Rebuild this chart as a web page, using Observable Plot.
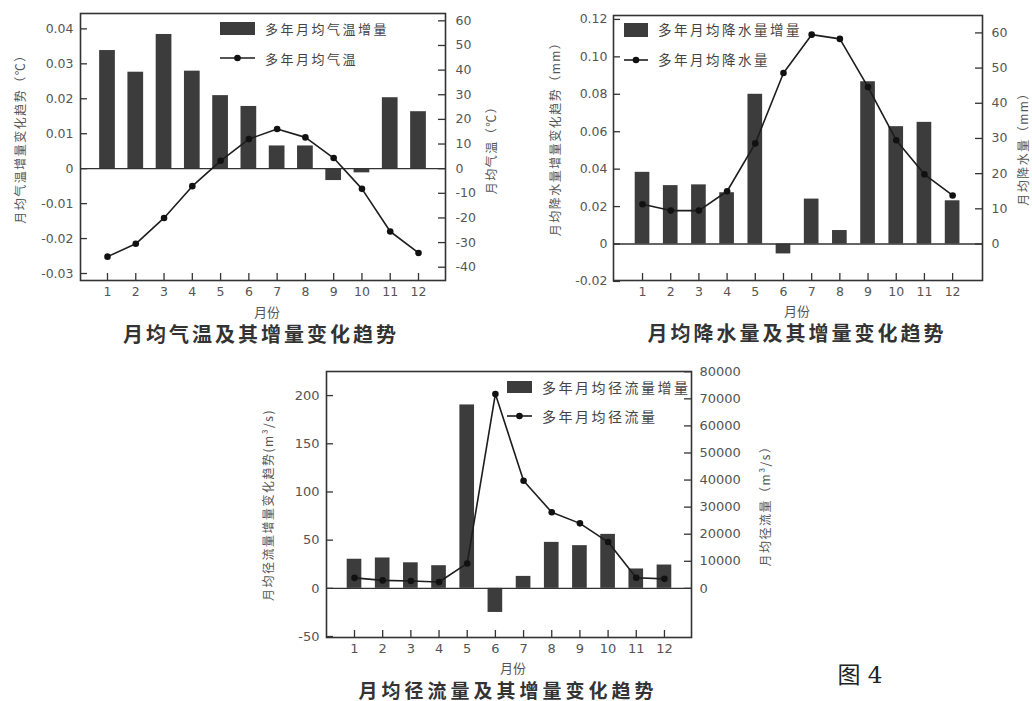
<!DOCTYPE html>
<html>
<head>
<meta charset="utf-8">
<script src="https://cdn.jsdelivr.net/npm/d3@7"></script>
<script src="https://cdn.jsdelivr.net/npm/@observablehq/plot@0.6"></script>
<style>
  html, body { margin: 0; padding: 0; background: #fff; }
  #root { position: relative; width: 1032px; height: 701px; overflow: hidden; background: #fff;
          font-family: "Noto Sans CJK SC", "Noto Sans", sans-serif; }
  .abs { position: absolute; white-space: nowrap; line-height: 1; }
  .title { font-size: 20px; font-weight: bold; color: #333; letter-spacing: 3px; transform: translate(-50%, -50%); }
  .xlab { font-size: 13px; color: #555; transform: translate(-50%, -50%); }
  .ytitle { font-size: 12px; color: #555; letter-spacing: 1.5px; transform: translate(-50%, -50%) rotate(-90deg); }
  .leg { font-size: 13px; color: #444; letter-spacing: 2.5px; transform: translateY(-50%); }
  .fig { font-size: 23px; color: #222; font-family: "DejaVu Serif", "Noto Sans CJK SC", serif; transform: translate(-50%, -50%); }
</style>
</head>
<body>
<div id="root"></div>
<script>
// ---------- data ----------
const months = [1, 2, 3, 4, 5, 6, 7, 8, 9, 10, 11, 12];

// chart 1: monthly mean temperature
const tempIncrement = [0.0338, 0.0276, 0.0384, 0.0279, 0.0209, 0.0178, 0.0065, 0.0065, -0.0034, -0.0012, 0.0203, 0.0163];
const tempMean = [-35.7, -30.5, -20.0, -7.1, 3.2, 12.0, 16.1, 12.7, 4.3, -8.2, -25.5, -34.2];
const tempLeftTicks = [-0.03, -0.02, -0.01, 0, 0.01, 0.02, 0.03, 0.04];
const tempRightTicks = [-40, -30, -20, -10, 0, 10, 20, 30, 40, 50, 60];

// chart 2: monthly mean precipitation
const precipIncrement = [0.0383, 0.0312, 0.0316, 0.0274, 0.080, -0.0053, 0.024, 0.0072, 0.0867, 0.0627, 0.065, 0.0231];
const precipMean = [11.3, 9.5, 9.5, 15.0, 28.6, 48.6, 59.5, 58.3, 44.6, 29.5, 19.8, 13.8];
const precipLeftTicks = [-0.02, 0, 0.02, 0.04, 0.06, 0.08, 0.10, 0.12];
const precipRightTicks = [0, 10, 20, 30, 40, 50, 60];

// chart 3: monthly mean runoff
const runoffIncrement = [30.2, 31.5, 26.5, 23.5, 190.3, -25, 12.4, 47.7, 44.3, 56.0, 20.1, 24.2];
const runoffMean = [3880, 2940, 2700, 2350, 9200, 71800, 39750, 28100, 24000, 17100, 3900, 3500];
const runoffLeftTicks = [-50, 0, 50, 100, 150, 200];
const runoffRightTicks = [0, 10000, 20000, 30000, 40000, 50000, 60000, 70000, 80000];

// ---------- helpers ----------
const root = document.getElementById("root");
const fmt2 = (v) => (Math.abs(v) < 1e-9 ? "0" : (v < 0 ? "-" : "") + Math.abs(v).toFixed(2));
const fmtInt = (v) => { const r = Math.round(v); return (r < 0 ? "-" : "") + Math.abs(r); };

function chart(cfg) {
  const data = months.map((m, i) => ({ m, b: cfg.bars[i], v: cfg.line[i] }));
  const innerW = cfg.width - cfg.ml - cfg.mr;
  const innerH = cfg.height - cfg.mt - cfg.mb;
  const k = cfg.k, hw = cfg.hw, t = 7;
  const svg = Plot.plot({
    width: cfg.width, height: cfg.height,
    marginLeft: cfg.ml, marginRight: cfg.mr, marginTop: cfg.mt, marginBottom: cfg.mb,
    x: { domain: cfg.xDomain },
    y: { domain: cfg.yDomain },
    style: { fontFamily: "DejaVu Sans, sans-serif", fontSize: cfg.fs || "12.5px", color: "#555", background: "transparent", overflow: "visible" },
    marks: [
      Plot.rectY(data, { x1: d => d.m - hw, x2: d => d.m + hw, y1: d => 0, y2: d => d.b, fill: "#3c3c3c" }),
      Plot.ruleY([0], { stroke: "#333", strokeWidth: 1.3 }),
      Plot.line(data, { x: "m", y: d => d.v * k, stroke: "#1d1d1d", strokeWidth: 1.6 }),
      Plot.dot(data, { x: "m", y: d => d.v * k, r: 3.3, fill: "#111", stroke: "none" }),
      Plot.ruleX(months, { x: d => d, insetTop: innerH - t, stroke: "#333", strokeWidth: 1.3 }),
      Plot.ruleY(cfg.leftTicks, { y: d => d, insetRight: innerW - t, stroke: "#333", strokeWidth: 1.3 }),
      Plot.ruleY(cfg.rightTicks, { y: d => d * k, insetLeft: innerW - t, stroke: "#333", strokeWidth: 1.3 }),
      Plot.axisX({ ticks: months, tickSize: 0, tickPadding: cfg.bp || 7, tickFormat: d => String(d), label: null, fill: "#555" }),
      Plot.axisY({ anchor: "left", ticks: cfg.leftTicks, tickSize: 0, tickPadding: cfg.lp, tickFormat: cfg.leftFmt, label: null, fill: "#555" }),
      Plot.axisY({ anchor: "right", ticks: cfg.rightTicks.map(v => v * k), tickSize: 0, tickPadding: cfg.rp, tickFormat: d => fmtInt(d / k), label: null, fill: "#555" }),
      Plot.frame({ stroke: "#333", strokeWidth: 1.6 })
    ]
  });
  svg.style.position = "absolute";
  svg.style.left = cfg.left + "px";
  svg.style.top = cfg.top + "px";
  root.appendChild(svg);
}

function text(cls, str, x, y) {
  const d = document.createElement("div");
  d.className = "abs " + cls;
  d.textContent = str;
  d.style.left = x + "px";
  d.style.top = y + "px";
  root.appendChild(d);
  return d;
}

function legend(x, y1, y2, w, h, s1, s2, fs) {
  const rect = document.createElement("div");
  rect.className = "abs";
  Object.assign(rect.style, { left: x + "px", top: (y1 - h / 2) + "px", width: w + "px", height: h + "px", background: "#3c3c3c" });
  root.appendChild(rect);
  const ns = "http://www.w3.org/2000/svg";
  const sv = document.createElementNS(ns, "svg");
  sv.setAttribute("width", w); sv.setAttribute("height", 10);
  sv.style.position = "absolute"; sv.style.left = x + "px"; sv.style.top = (y2 - 5) + "px";
  const ln = document.createElementNS(ns, "line");
  ln.setAttribute("x1", 0); ln.setAttribute("x2", w); ln.setAttribute("y1", 5); ln.setAttribute("y2", 5);
  ln.setAttribute("stroke", "#1d1d1d"); ln.setAttribute("stroke-width", 1.6);
  const c = document.createElementNS(ns, "circle");
  c.setAttribute("cx", w / 2); c.setAttribute("cy", 5); c.setAttribute("r", 3.3); c.setAttribute("fill", "#111");
  sv.appendChild(ln); sv.appendChild(c); root.appendChild(sv);
  const a = text("leg", s1, x + w + 10, y1); a.style.fontSize = fs;
  const b = text("leg", s2, x + w + 10, y2); b.style.fontSize = fs;
}

// ---------- chart 1 ----------
chart({
  left: 0, top: 0, width: 530, height: 305, ml: 80, mr: 85, mt: 13, mb: 25,
  xDomain: [0.045, 12.955], yDomain: [-0.032, 0.0444], k: 0.000705, hw: 0.278,
  bars: tempIncrement, line: tempMean, leftTicks: tempLeftTicks, rightTicks: tempRightTicks,
  leftFmt: fmt2, lp: 7, rp: 10
});
// ---------- chart 2 ----------
chart({
  left: 530, top: 0, width: 502, height: 305, ml: 83, mr: 50, mt: 15, mb: 25,
  xDomain: [-0.03, 13.06], yDomain: [-0.0195, 0.1221], k: 0.00188, hw: 0.26,
  bars: precipIncrement, line: precipMean, leftTicks: precipLeftTicks, rightTicks: precipRightTicks,
  leftFmt: fmt2, lp: 6, rp: 9
});
// ---------- chart 3 ----------
chart({
  left: 260, top: 355, width: 480, height: 310, ml: 66, mr: 49, mt: 16, mb: 28,
  xDomain: [0.006, 12.96], yDomain: [-51, 225], k: 0.002809, hw: 0.26,
  bars: runoffIncrement, line: runoffMean, leftTicks: runoffLeftTicks, rightTicks: runoffRightTicks,
  leftFmt: d => fmtInt(d), lp: 7, rp: 8, bp: 6, fs: "13px"
});

// ---------- titles & labels ----------
text("title", "月均气温及其增量变化趋势", 261, 334);
text("title", "月均降水量及其增量变化趋势", 797, 333);
const t3 = text("title", "月均径流量及其增量变化趋势", 508, 689);
t3.style.fontSize = "19px";
t3.style.letterSpacing = "4px";

text("xlab", "月份", 267, 311);
text("xlab", "月份", 797, 310);
text("xlab", "月份", 513, 667);

text("ytitle", "月均气温增量变化趋势（℃）", 20, 136);
text("ytitle", "月均气温（℃）", 491, 147);
text("ytitle", "月均降水量增量变化趋势（mm）", 555, 136);
text("ytitle", "月均降水量（mm）", 1023, 146);
text("ytitle", "月均径流量增量变化趋势(m³/s)", 268, 505);
text("ytitle", "月均径流量（m³/s）", 765, 503);

legend(220, 28, 58, 35, 13, "多年月均气温增量", "多年月均气温", "13px");
legend(624, 30, 60, 24, 14, "多年月均降水量增量", "多年月均降水量", "13.5px");
legend(507, 387, 416, 25, 12, "多年月均径流量增量", "多年月均径流量", "14px");

text("fig", "图 4", 860, 675);
</script>
</body>
</html>
